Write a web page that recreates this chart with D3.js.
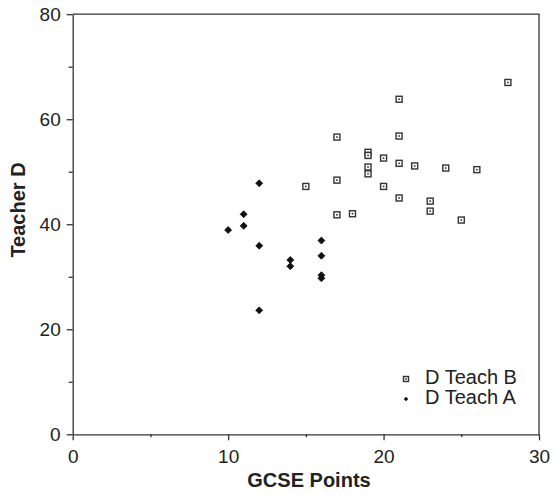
<!DOCTYPE html>
<html>
<head>
<meta charset="utf-8">
<script src="https://cdn.jsdelivr.net/npm/d3@7"></script>
<style>
  body { margin: 0; background: #fff; }
  svg { display: block; font-family: "Liberation Sans", Arial, sans-serif; }
</style>
</head>
<body>
<svg id="chart" width="556" height="494"></svg>
<script>
// series names
let seriesNames = ["D Teach B", "D Teach A"];

// D Teach B (open squares)
let teachBX = [28, 21, 17, 21, 19, 19, 20, 21, 22, 24, 26, 19, 19, 17, 15, 20, 21, 23, 23, 17, 18, 25];
let teachBY = [67.0, 63.8, 56.6, 56.8, 53.7, 53.1, 52.6, 51.6, 51.1, 50.7, 50.4, 50.9, 49.6, 48.4, 47.2, 47.2, 45.0, 44.4, 42.5, 41.8, 42.0, 40.8];

// D Teach A (filled diamonds)
let teachAX = [12, 11, 11, 10, 12, 16, 16, 14, 14, 16, 16, 12];
let teachAY = [47.8, 41.9, 39.7, 38.9, 35.9, 36.9, 34.0, 33.2, 32.0, 30.3, 29.7, 23.6];

let xTicks = [0, 10, 20, 30];
let xMinor = [5, 15, 25];
let yTicks = [0, 20, 40, 60, 80];
let yMinor = [10, 30, 50, 70];

let axisColor = "#333";
let textColor = "#222";

let svg = d3.select("#chart");

let x = d3.scaleLinear().domain([0, 30]).range([72.7, 539]);
let y = d3.scaleLinear().domain([0, 80]).range([434.3, 14.2]);

// frame (top and right)
svg.append("path")
  .attr("d", "M" + x(0) + "," + y(80) + " L" + x(30) + "," + y(80) + " L" + x(30) + "," + y(0))
  .style("fill", "none")
  .style("stroke", axisColor)
  .style("stroke-width", 1.3);

// x axis
let gx = svg.append("g")
  .attr("transform", "translate(0," + y(0) + ")")
  .call(d3.axisBottom(x).tickValues(xTicks).tickSize(6).tickPadding(9).tickSizeOuter(0));
svg.append("g")
  .attr("transform", "translate(0," + y(0) + ")")
  .call(d3.axisBottom(x).tickValues(xMinor).tickSize(3).tickFormat("").tickSizeOuter(0))
  .call(g => g.select(".domain").remove());

// y axis
let gy = svg.append("g")
  .attr("transform", "translate(" + x(0) + ",0)")
  .call(d3.axisLeft(y).tickValues(yTicks).tickSize(6).tickPadding(6).tickSizeOuter(0));
svg.append("g")
  .attr("transform", "translate(" + x(0) + ",0)")
  .call(d3.axisLeft(y).tickValues(yMinor).tickSize(4).tickFormat("").tickSizeOuter(0))
  .call(g => g.select(".domain").remove());

svg.selectAll(".domain, .tick line")
  .style("stroke", axisColor)
  .style("stroke-width", 1.3);
svg.selectAll(".tick text")
  .style("fill", textColor)
  .style("font-family", "Liberation Sans, Arial, sans-serif")
  .style("font-size", "19px");

// axis titles
svg.append("text")
  .attr("x", 309)
  .attr("y", 487)
  .text("GCSE Points")
  .style("fill", textColor)
  .style("text-anchor", "middle")
  .style("font-weight", "bold")
  .style("font-size", "20px");

svg.append("text")
  .attr("transform", "translate(25,210) rotate(-90)")
  .text("Teacher D")
  .style("fill", textColor)
  .style("text-anchor", "middle")
  .style("font-weight", "bold")
  .style("font-size", "20px");

// data
let dataB = teachBX.map((d, i) => ({ x: d, y: teachBY[i] }));
let dataA = teachAX.map((d, i) => ({ x: d, y: teachAY[i] }));

function drawSquare(g, cx, cy, s) {
  g.append("rect")
    .attr("x", cx - s / 2)
    .attr("y", cy - s / 2)
    .attr("width", s)
    .attr("height", s)
    .style("fill", "#fff")
    .style("stroke", "#333")
    .style("stroke-width", 1.4);
  g.append("rect")
    .attr("x", cx - 0.8)
    .attr("y", cy - 0.8)
    .attr("width", 1.6)
    .attr("height", 1.6)
    .style("fill", "#333");
}

let diamond = d3.symbol().type(d3.symbolSquare);

let gB = svg.append("g");
dataB.forEach(d => drawSquare(gB, x(d.x), y(d.y), 6));

svg.append("g").selectAll("path")
  .data(dataA)
  .enter().append("path")
  .attr("d", diamond.size(24))
  .attr("transform", d => "translate(" + x(d.x) + "," + y(d.y) + ") rotate(45)")
  .style("fill", "#111")
  .style("stroke", "#111")
  .style("stroke-width", 0.8);

// legend
let leg = svg.append("g");
drawSquare(leg, 406, 379, 5);
leg.append("path")
  .attr("d", d3.symbol().type(d3.symbolSquare).size(10))
  .attr("transform", "translate(406,399) rotate(45)")
  .style("fill", "#111");

leg.selectAll("text")
  .data(seriesNames)
  .enter().append("text")
  .attr("x", 425)
  .attr("y", (d, i) => 384.3 + i * 20)
  .text(d => d)
  .style("fill", textColor)
  .style("font-size", "20px");
</script>
</body>
</html>
